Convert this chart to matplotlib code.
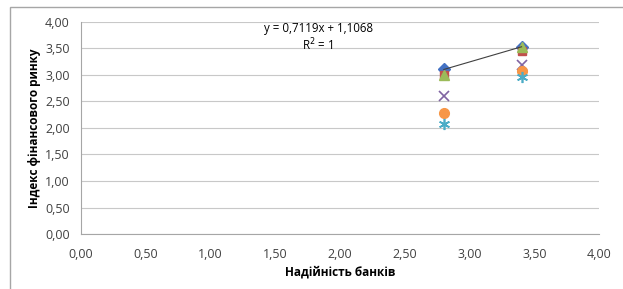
import matplotlib
matplotlib.use('Agg')
import matplotlib.pyplot as plt
from matplotlib.patches import Rectangle

# дані
x_vals = [2.8, 3.4]
s_blue = [3.10, 3.527]
s_red = [3.00, 3.45]
s_green = [3.00, 3.52]
s_purple = [2.60, 3.18]
s_orange = [2.28, 3.08]
s_cyan = [2.08, 2.95]
slope, intercept = 0.7119, 1.1068
ticks = [0, 0.5, 1, 1.5, 2, 2.5, 3, 3.5, 4]
tick_labels = ['0,00', '0,50', '1,00', '1,50', '2,00', '2,50', '3,00', '3,50', '4,00']

plt.rcParams['font.family'] = ['Open Sans', 'DejaVu Sans']

fig = plt.figure(figsize=(6.23, 2.89), dpi=100)
fig.patches.append(Rectangle((10 / 623, -0.05), 1.0, 1.05 - 7 / 289,
                             transform=fig.transFigure, fill=False,
                             edgecolor='#a6a6a6', linewidth=1))
ax = fig.add_axes([0.13, 0.19, 0.832, 0.735])

ax.plot(x_vals, s_blue, 'D', color='#4472C4', markersize=6, zorder=3)
ax.plot(x_vals, s_red, 's', color='#C0504D', markersize=6, zorder=3)
ax.plot(x_vals, s_green, '^', color='#9BBB59', markersize=7, zorder=3)
ax.plot(x_vals, s_purple, 'x', color='#8064A2', markersize=7, mew=1.2, zorder=3)
ax.plot(x_vals, s_orange, 'o', color='#F79646', markersize=7, zorder=3)
ax.plot(x_vals, s_cyan, marker=(6, 2, 0), linestyle='none', color='#4BACC6',
        markersize=8, mew=1.2, zorder=3)

# лінія тренду
tx = [min(x_vals), max(x_vals)]
ax.plot(tx, [slope * v + intercept for v in tx], color='#404040', linewidth=0.8, zorder=4)
ax.text(1.83, 3.87, 'y = 0,7119x + 1,1068', ha='center', va='center', fontsize=8.3)
ax.text(1.83, 3.57, 'R$^2$ = 1', ha='center', va='center', fontsize=8.3)

ax.set_xlim(0, 4)
ax.set_ylim(0, 4)
ax.set_xticks(ticks)
ax.set_xticklabels(tick_labels)
ax.set_yticks(ticks)
ax.set_yticklabels(tick_labels)
ax.tick_params(length=0, labelsize=9, colors='#404040')
ax.tick_params(axis='x', pad=10)
ax.tick_params(axis='y', pad=8)
ax.grid(axis='y', color='#c8c8c8', linewidth=0.8)
ax.set_axisbelow(True)
for s in ['top', 'right']:
    ax.spines[s].set_visible(False)
for s in ['left', 'bottom']:
    ax.spines[s].set_color('#a6a6a6')

ax.set_xlabel('Надійність банків', fontsize=8.5, fontweight='bold', labelpad=3)
ax.set_ylabel('Індекс фінансового ринку', fontsize=8.5, fontweight='bold', labelpad=3)

plt.savefig('out.png', dpi=100)
